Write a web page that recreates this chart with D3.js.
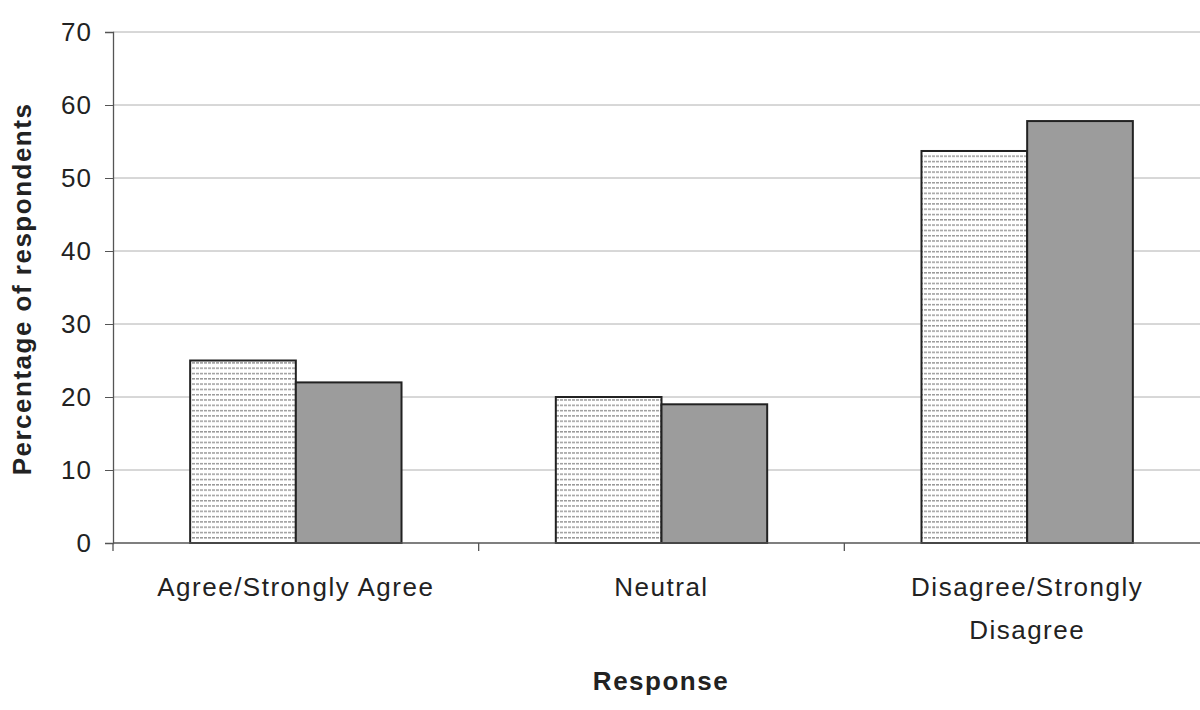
<!DOCTYPE html>
<html><head><meta charset="utf-8">
<script src="https://cdn.jsdelivr.net/npm/d3@7"></script>
<style>body{margin:0;background:#fff}svg{display:block;font-family:"Liberation Sans",Arial,sans-serif}</style>
</head><body>
<svg id="c" width="1200" height="710"></svg>
<script>
const categories = ["Agree/Strongly Agree", "Neutral", "Disagree/Strongly Disagree"];
const categoryLines = [["Agree/Strongly Agree"], ["Neutral"], ["Disagree/Strongly", "Disagree"]];
const seriesNames = ["Series A", "Series B"];
const seriesA = [25, 20, 53.7];
const seriesB = [22, 19, 57.8];
const yTicks = [0, 10, 20, 30, 40, 50, 60, 70];

(function () {
const svg = d3.select("#c");
const mLeft = 113, mRight = 1210, mTop = 32, mBottom = 543;
const FS = 26, LS = 1.5;

const defs = svg.append("defs");
const pat = defs.append("pattern").attr("id", "hatch").attr("patternUnits", "userSpaceOnUse")
  .attr("width", 8).attr("height", 5.3);
pat.append("rect").attr("width", 8).attr("height", 5.3).attr("fill", "#fff");
pat.append("line").attr("x1", 0).attr("x2", 8).attr("y1", 2.5).attr("y2", 2.5)
  .attr("stroke", "#777").attr("stroke-width", 1).attr("stroke-dasharray", "3,1");

const y = d3.scaleLinear().domain([0, 70]).range([mBottom, mTop]);
const x0 = d3.scaleBand().domain(categories).range([mLeft, mRight]).padding(0);
const x1 = d3.scaleBand().domain(seriesNames).range([0, x0.bandwidth()]).paddingInner(0).paddingOuter(0.73);

// gridlines
svg.append("g").selectAll("line").data(yTicks.filter(d => d > 0)).join("line")
  .attr("x1", mLeft).attr("x2", 1200).attr("y1", d => y(d)).attr("y2", d => y(d))
  .attr("stroke", "#b0b0b0").attr("stroke-width", 1);

// bars
const data = categories.map((c, i) => ({c, vals: [seriesA[i], seriesB[i]]}));
const g = svg.append("g");
data.forEach(d => {
  seriesNames.forEach((s, j) => {
    g.append("rect")
      .attr("x", x0(d.c) + x1(s))
      .attr("y", y(d.vals[j]))
      .attr("width", x1.bandwidth())
      .attr("height", y(0) - y(d.vals[j]))
      .attr("fill", j === 0 ? "url(#hatch)" : "#9c9c9c")
      .attr("stroke", "#222").attr("stroke-width", 2);
  });
});

// y axis
const yAxis = d3.axisLeft(y).tickValues(yTicks).tickSize(8).tickPadding(13).tickFormat(d3.format("d"));
const ya = svg.append("g").attr("transform", `translate(${mLeft},0)`).call(yAxis);
ya.select(".domain").attr("stroke", "#555").attr("stroke-width", 1.3);
ya.selectAll(".tick line").attr("stroke", "#555");
ya.selectAll("text").attr("font-size", FS).attr("fill", "#222").attr("letter-spacing", 1)
  .attr("font-family", "Liberation Sans, Arial, sans-serif");

// x axis baseline + ticks at boundaries
const xa = svg.append("g");
xa.append("line").attr("x1", mLeft).attr("x2", 1200).attr("y1", mBottom).attr("y2", mBottom)
  .attr("stroke", "#555").attr("stroke-width", 1.3);
const bounds = categories.map(c => x0(c)).concat([x0(categories[2]) + x0.bandwidth()]);
xa.selectAll("line.t").data(bounds).join("line").attr("class", "t")
  .attr("x1", d => d).attr("x2", d => d).attr("y1", mBottom).attr("y2", mBottom + 8)
  .attr("stroke", "#555").attr("stroke-width", 1.3);

// category labels
categoryLines.forEach((lines, i) => {
  const cx = x0(categories[i]) + x0.bandwidth() / 2;
  const t = svg.append("text").attr("text-anchor", "middle").attr("font-size", FS).attr("fill", "#222")
    .attr("letter-spacing", LS).attr("x", cx).attr("y", 596);
  lines.forEach((l, k) => t.append("tspan").attr("x", cx).attr("dy", k === 0 ? 0 : 43).text(l));
});

// axis titles
svg.append("text").attr("text-anchor", "middle").attr("font-size", FS).attr("font-weight", "bold").attr("fill", "#222")
  .attr("letter-spacing", LS).attr("x", 661).attr("y", 690).text("Response");
svg.append("text").attr("text-anchor", "middle").attr("font-size", FS).attr("font-weight", "bold").attr("fill", "#222")
  .attr("letter-spacing", LS).attr("transform", "translate(31,289) rotate(-90)").text("Percentage of respondents");
})();
</script>
</body></html>
